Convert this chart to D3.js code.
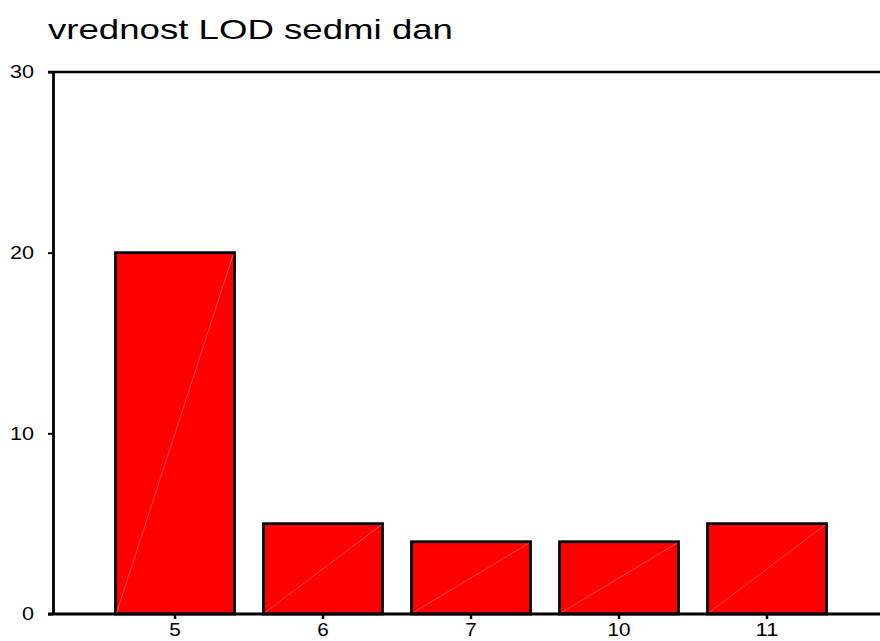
<!DOCTYPE html>
<html>
<head>
<meta charset="utf-8">
<script src="https://cdn.jsdelivr.net/npm/d3@7"></script>
<style>
	body { margin: 0; background: #fff; }
	svg { display: block; font-family: "Liberation Sans", Arial, sans-serif; }
</style>
</head>
<body>
<script>
var width = 880, height = 641;

var categories = ["5", "6", "7", "10", "11"];
var counts = [20, 5, 4, 4, 5];
var yTicks = [0, 10, 20, 30];
var title = "vrednost LOD sedmi dan";

var mLeft = 53, mTop = 72, mBottom = 614, mRight = 889;

var svg = d3.select("body").append("svg").attr("width", width).attr("height", height);

var x = d3.scaleBand().domain(categories).range([mLeft + 48, mRight - 48]).paddingInner(0.196).paddingOuter(0.098);
var y = d3.scaleLinear().domain([0, 30]).range([mBottom, mTop]);

// title (the original font is wider, so stretch it)
svg.append("text").attr("x", 48).attr("y", 39)
	.attr("font-size", 28).attr("fill", "#000")
	.attr("textLength", 405).attr("lengthAdjust", "spacingAndGlyphs")
	.text(title);

var data = categories.map(function (c, i) { return {c: c, v: counts[i]}; });

// bars
var bars = svg.selectAll(".bar").data(data).enter().append("g").attr("class", "bar");
bars.append("rect")
	.attr("x", function (d) { return x(d.c); })
	.attr("y", function (d) { return y(d.v); })
	.attr("width", x.bandwidth())
	.attr("height", function (d) { return y(0) - y(d.v); })
	.attr("fill", "#ff0000").attr("stroke", "#000").attr("stroke-width", 2.8);
bars.append("line")
	.attr("x1", function (d) { return x(d.c) + 1; })
	.attr("y1", y(0) - 1)
	.attr("x2", function (d) { return x(d.c) + x.bandwidth() - 1; })
	.attr("y2", function (d) { return y(d.v) + 1; })
	.attr("stroke", "#ff8080").attr("stroke-width", 0.6);

// y axis
var yAxis = d3.axisLeft(y).tickValues(yTicks).tickSize(5).tickSizeOuter(0).tickPadding(14);
var ya = svg.append("g").attr("transform", "translate(" + mLeft + ",0)").call(yAxis);
ya.attr("font-size", 18).attr("font-family", "Liberation Sans, Arial, sans-serif");
ya.select(".domain").attr("stroke", "#000").attr("stroke-width", 2.8);
ya.selectAll(".tick line").attr("stroke", "#000").attr("stroke-width", 2);
ya.selectAll(".tick text").attr("fill", "#000")
	.attr("textLength", function (d) { return String(d).length * 12; })
	.attr("lengthAdjust", "spacingAndGlyphs");

// x axis
var xAxis = d3.axisBottom(x).tickSize(5).tickSizeOuter(0).tickPadding(4);
var xa = svg.append("g").attr("transform", "translate(0," + mBottom + ")").call(xAxis);
xa.attr("font-size", 18).attr("font-family", "Liberation Sans, Arial, sans-serif");
xa.select(".domain").remove();
xa.selectAll(".tick line").attr("stroke", "#000").attr("stroke-width", 2.5);
xa.selectAll(".tick text").attr("fill", "#000")
	.attr("textLength", function (d) { return d.length * 11.5; })
	.attr("lengthAdjust", "spacingAndGlyphs");

// frame lines
svg.append("line").attr("x1", mLeft - 5).attr("x2", width).attr("y1", mBottom).attr("y2", mBottom)
	.attr("stroke", "#000").attr("stroke-width", 2.8);
svg.append("line").attr("x1", mLeft - 5).attr("x2", width).attr("y1", mTop).attr("y2", mTop)
	.attr("stroke", "#000").attr("stroke-width", 2.5);
</script>
</body>
</html>
